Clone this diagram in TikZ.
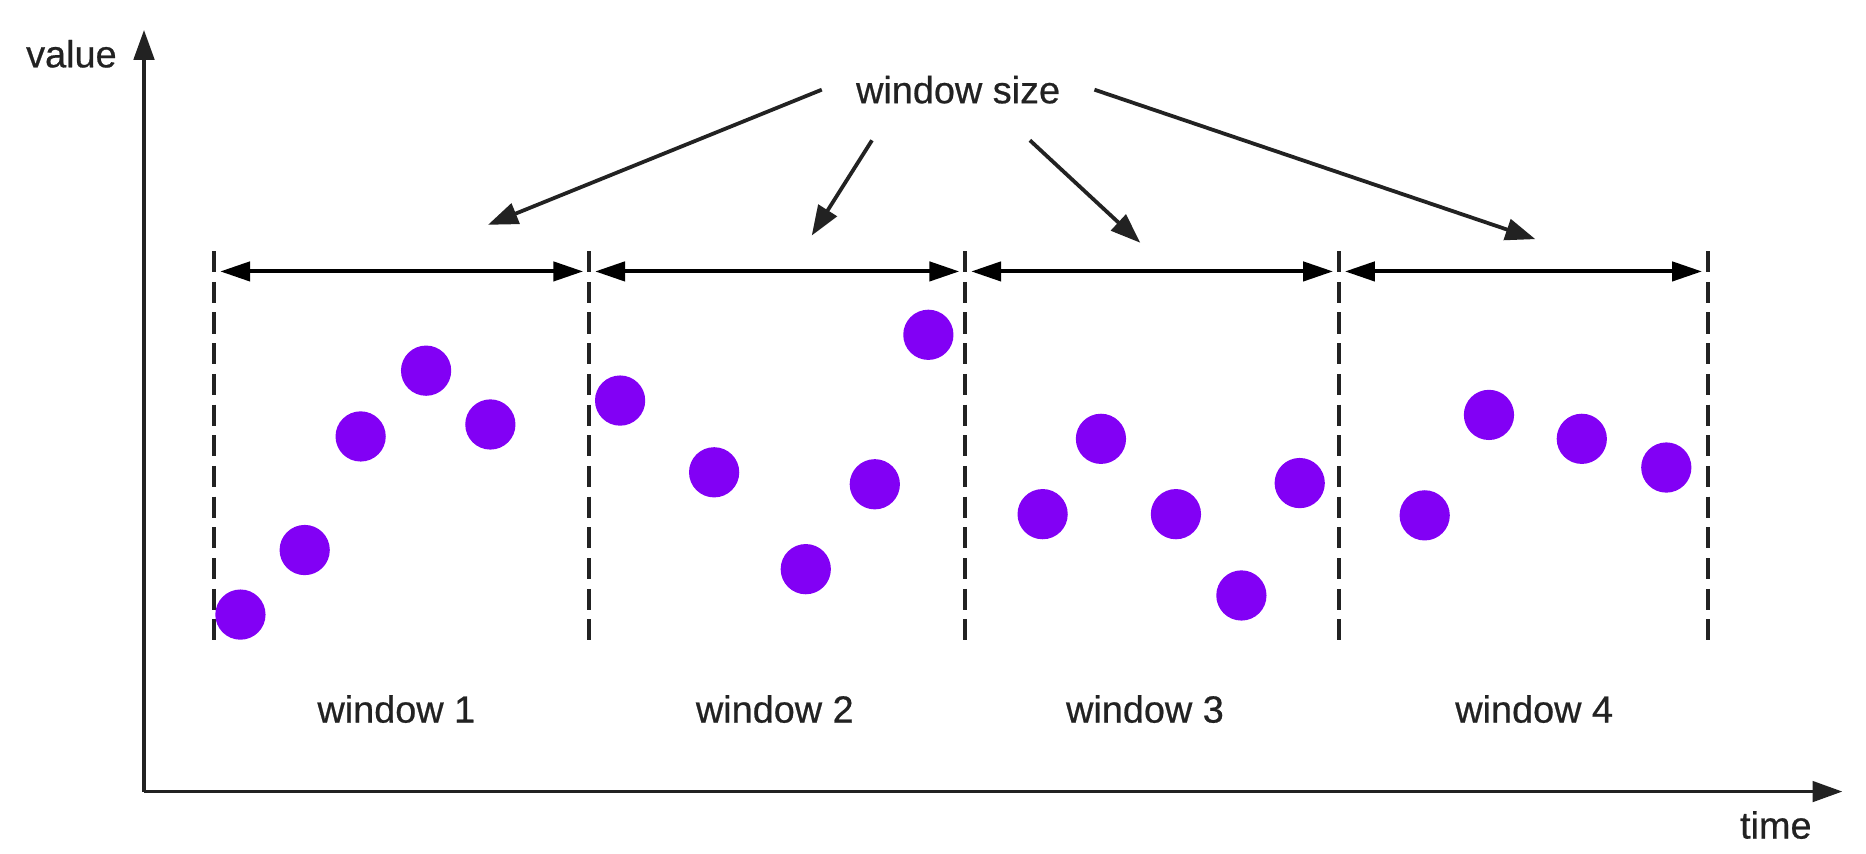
\documentclass[tikz,border=0pt]{standalone}
\usepackage{fontspec}
\setmainfont{Liberation Sans}
\newfontfamily\tagfont{Liberation Sans}[FakeBold=0.6]
\usetikzlibrary{arrows.meta}

\definecolor{ink}{HTML}{222222}
\definecolor{dotfill}{RGB}{130,0,245}

\tikzset{
  axis/.style={ink, line width=0.9pt, -{Triangle[length=0.25cm,width=0.17cm]}},
  border/.style={ink, line width=0.9pt, dash pattern=on 5pt off 2.3pt},
  span/.style={black, line width=0.95pt, shorten <=0.05cm, shorten >=0.05cm,
    {Triangle[length=0.25cm,width=0.16cm]}-{Triangle[length=0.25cm,width=0.16cm]}},
  pointer/.style={ink, line width=0.9pt, -{Triangle[length=0.25cm,width=0.18cm]}},
  sample/.style={circle, fill=dotfill, minimum size=0.42cm, inner sep=0pt},
  tag/.style={font=\tagfont\fontsize{9}{11}\selectfont, text=ink},
}

\begin{document}
\begin{tikzpicture}[x=0.00995cm, y=-0.01cm]
  \useasboundingbox (0,0) rectangle (1567.8,714);

  % ---- axes ---------------------------------------
  \coordinate (origin) at (121,662);
  \coordinate (ytip) at (121,25);
  \coordinate (xtip) at (1548,662);
  \draw[axis] (origin) -- (ytip);
  \draw[axis] (origin) -- (xtip);
  \node[tag] (value) at (60,45) {value};
  \node[tag] (time) at (1492,690) {time};

  % ---- window borders and spans -------------------
  \foreach \x [count=\i] in {180,495,811,1125,1435} {
    \coordinate (top\i) at (\x,210);
    \coordinate (bot\i) at (\x,540);
    \coordinate (mark\i) at (\x,227);
    \draw[border] (top\i) -- (bot\i);
  }
  \foreach \i/\j in {1/2,2/3,3/4,4/5}
    \draw[span] (mark\i) -- (mark\j);

  % ---- window labels ------------------------------
  \foreach \x [count=\i] in {333,651,962,1289}
    \node[tag] (win\i) at (\x,593) {window \i};

  % ---- window size pointers -----------------------
  \node[tag, inner xsep=0.28cm, inner ysep=0.3cm] (size) at (805,75) {window size};
  \coordinate (t1) at (410,188);
  \coordinate (t2) at (682,197);
  \coordinate (t3) at (958,203);
  \coordinate (t4) at (1290,200);
  \draw[pointer] (size.west) -- (t1);
  \draw[pointer] ([xshift=-0.72cm]size.south) -- (t2);
  \draw[pointer] ([xshift=0.6cm]size.south) -- (t3);
  \draw[pointer] (size.east) -- (t4);

  % ---- samples ------------------------------------
  \foreach \x/\y [count=\n] in {202/514, 256/460, 303/365, 358/310, 412/355,
      521/335, 600/395, 677/476, 735/405, 780/280,
      876/430, 925/367, 988/430, 1043/498, 1092/404,
      1197/431, 1251/347, 1329/367, 1400/391}
    \node[sample] (p\n) at (\x,\y) {};
\end{tikzpicture}
\end{document}
